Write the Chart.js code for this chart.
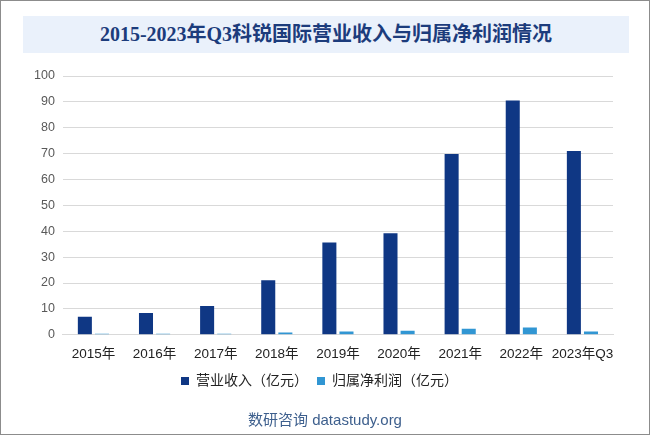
<!DOCTYPE html>
<html>
<head>
<meta charset="utf-8">
<script src="https://cdn.jsdelivr.net/npm/chart.js@4/dist/chart.umd.min.js"></script>
<style>
  html, body { margin: 0; padding: 0; background: #fff; }
  #wrap {
    position: relative; width: 648px; height: 433px;
    border: 1px solid #8c8c8c; overflow: hidden;
  }
  #title {
    position: absolute; left: 22px; top: 15px; width: 606px; height: 37px;
    background: #eaf1fb; color: #1c3c7c;
    font: bold 20px "Liberation Serif", "Noto Sans CJK SC", serif;
    line-height: 37px; text-align: center;
  }
  #note {
    position: absolute; left: 0; top: 407px; width: 648px; text-align: center;
    color: #3d5f8d; font: 15px "Liberation Sans", "Noto Sans CJK SC", sans-serif;
  }
  canvas { position: absolute; left: 0; top: 0; }
</style>
</head>
<body>
<div id="wrap">
  <canvas id="chart" width="648" height="433"></canvas>
  <div id="title">2015-2023年Q3科锐国际营业收入与归属净利润情况</div>
  <div id="note">数研咨询 datastudy.org</div>
</div>
<script>
// chart data
const years = ['2015年', '2016年', '2017年', '2018年', '2019年', '2020年', '2021年', '2022年', '2023年Q3'];
const revenue = [7.0, 8.4, 11.1, 21.1, 35.7, 39.2, 69.9, 90.5, 71.0];
const netProfit = [0.4, 0.4, 0.4, 0.9, 1.3, 1.6, 2.3, 2.8, 1.3];
const seriesNames = ['营业收入（亿元）', '归属净利润（亿元）'];

const FONT = '"Liberation Sans", "Noto Sans CJK SC", sans-serif';

new Chart(document.getElementById('chart'), {
  type: 'bar',
  data: {
    labels: years,
    datasets: [
      {
        label: seriesNames[0],
        data: revenue,
        backgroundColor: '#0f3784',
        barPercentage: 0.82,
        categoryPercentage: 0.56
      },
      {
        label: seriesNames[1],
        data: netProfit,
        backgroundColor: '#3196d3',
        barPercentage: 0.82,
        categoryPercentage: 0.56
      }
    ]
  },
  options: {
    responsive: false,
    animation: false,
    layout: {
      padding: { left: 25, right: 36, top: 75, bottom: 36 }
    },
    plugins: {
      tooltip: { enabled: false },
      legend: {
        position: 'bottom',
        labels: {
          boxWidth: 8,
          boxHeight: 8,
          padding: 9,
          color: '#222',
          font: { family: FONT, size: 14 }
        }
      }
    },
    scales: {
      x: {
        grid: { display: false },
        border: { color: '#d9d9d9' },
        ticks: {
          color: '#222',
          padding: 3,
          maxRotation: 0,
          autoSkip: false,
          font: { family: FONT, size: 13.5 }
        }
      },
      y: {
        min: 0,
        max: 100,
        grid: { color: '#d9d9d9', drawTicks: false },
        border: { display: false },
        ticks: {
          stepSize: 10,
          color: '#595959',
          padding: 8,
          font: { family: FONT, size: 12.5 }
        }
      }
    }
  }
});
</script>
</body>
</html>
